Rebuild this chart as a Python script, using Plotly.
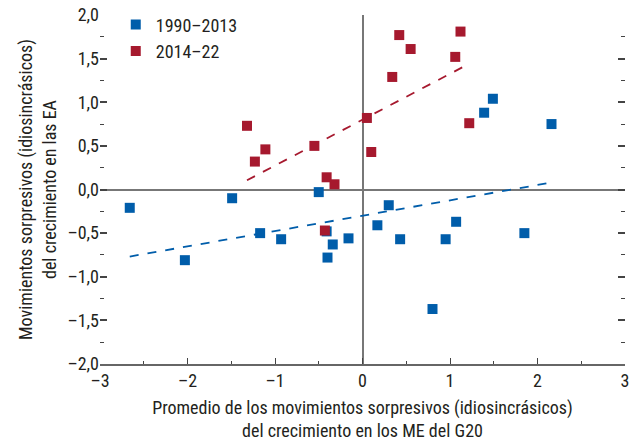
import plotly.graph_objects as go
import numpy as np

# --- data ---
blue_x = [-2.66, -2.03, -1.49, -1.17, -0.93, -0.50, -0.41, -0.34, -0.40, -0.16,
          0.17, 0.30, 0.43, 0.95, 1.07, 0.80, 1.85, 1.39, 1.49, 2.16]
blue_y = [-0.21, -0.81, -0.10, -0.50, -0.57, -0.03, -0.48, -0.63, -0.78, -0.56,
          -0.41, -0.18, -0.57, -0.57, -0.37, -1.37, -0.50, 0.88, 1.04, 0.75]

red_x = [-1.32, -1.23, -1.11, -0.55, -0.41, -0.32, -0.43, 0.05, 0.10, 0.34,
         0.42, 0.55, 1.06, 1.12, 1.22]
red_y = [0.73, 0.32, 0.46, 0.50, 0.14, 0.06, -0.47, 0.82, 0.43, 1.29,
         1.77, 1.61, 1.52, 1.81, 0.76]

# trend lines (slope, intercept)
blue_fit = (0.176, -0.30)
red_fit = (0.526, 0.80)

x_ticks = [-3, -2, -1, 0, 1, 2, 3]
x_labels = ["–3", "–2", "–1", "0", "1", "2", "3"]
y_ticks = [2.0, 1.5, 1.0, 0.5, 0.0, -0.5, -1.0, -1.5, -2.0]
y_labels = ["2,0", "1,5", "1,0", "0,5", "0,0", "–0,5", "–1,0", "–1,5", "–2,0"]

BLUE = "#005DAA"
RED = "#A6192E"
TXT = "#231F20"
FONT = "Liberation Sans Narrow, Roboto Condensed, Arial Narrow, sans-serif"
FS = 18

fig = go.Figure()

# trend lines span each series' x range
for xs, fit, col in [(blue_x, blue_fit, BLUE), (red_x, red_fit, RED)]:
    lx = np.array([min(xs), max(xs)])
    fig.add_trace(go.Scatter(
        x=lx, y=fit[0] * lx + fit[1], mode="lines",
        line=dict(color=col, width=1.8, dash="dash"),
        showlegend=False, hoverinfo="skip"
    ))

fig.add_trace(go.Scatter(
    x=blue_x, y=blue_y, mode="markers", name="1990–2013",
    marker=dict(symbol="square", size=10, color=BLUE)
))
fig.add_trace(go.Scatter(
    x=red_x, y=red_y, mode="markers", name="2014–22",
    marker=dict(symbol="square", size=10, color=RED)
))

fig.update_xaxes(
    range=[-3, 3], tickvals=x_ticks, ticktext=x_labels, automargin=False,
    showgrid=False, zeroline=True, zerolinecolor="#777777", zerolinewidth=1.6,
    showline=True, linecolor="#666666", linewidth=1.5,
    ticks="inside", ticklen=6, tickcolor="#444444", tickwidth=1,
    minor=dict(dtick=0.5, ticks="inside", ticklen=3, tickcolor="#444444", tickwidth=1),
    tickfont=dict(size=FS, color=TXT),
    title=dict(text="Promedio de los movimientos sorpresivos (idiosincrásicos)<br>"
                    "del crecimiento en los ME del G20",
               font=dict(size=FS, color=TXT), standoff=12)
)
fig.update_yaxes(
    range=[-2, 2], tickvals=y_ticks, ticktext=y_labels, automargin=False,
    showgrid=False, zeroline=True, zerolinecolor="#777777", zerolinewidth=1.6,
    showline=False, mirror="ticks",
    ticks="inside", ticklen=7, tickcolor="#444444", tickwidth=1.5,
    minor=dict(dtick=0.25, ticks="inside", ticklen=4, tickcolor="#444444", tickwidth=1),
    tickfont=dict(size=FS, color=TXT),
    title=dict(text="Movimientos sorpresivos (idiosincrásicos)<br>"
                    "del crecimiento en las EA",
               font=dict(size=FS, color=TXT), standoff=6)
)

fig.update_layout(
    width=630, height=441,
    margin=dict(l=100, r=5, t=15, b=77),
    plot_bgcolor="white", paper_bgcolor="white",
    font=dict(family=FONT, size=FS, color=TXT),
    legend=dict(x=0.03, y=1.025, xanchor="left", yanchor="top",
                bgcolor="rgba(0,0,0,0)", font=dict(size=FS),
                itemwidth=30, tracegroupgap=0),
    showlegend=True
)

# drop the browser's default body margin so the figure sits at the page corner
fig.write_html("out.html", config={"displayModeBar": False},
               post_script="document.body.style.margin='0';")
